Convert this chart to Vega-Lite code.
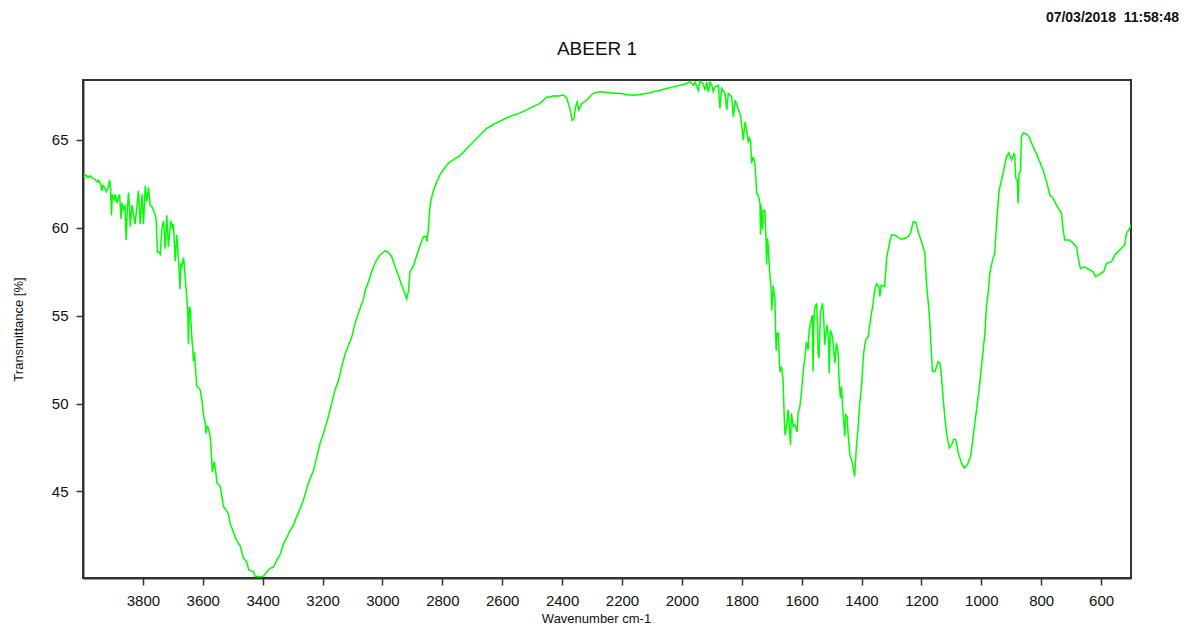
{
  "$schema": "https://vega.github.io/schema/vega-lite/v6.json",
  "width": 1048,
  "height": 498,
  "autosize": {"type": "none"},
  "padding": {"left": 83, "top": 80, "right": 54, "bottom": 46},
  "background": "white",
  "title": {
    "text": "ABEER 1",
    "anchor": "middle",
    "dx": -10,
    "offset": -63,
    "baseline": "alphabetic",
    "font": "Liberation Sans",
    "fontSize": 19,
    "fontWeight": "normal",
    "color": "#111111"
  },
  "config": {
    "view": {"stroke": "#333333", "strokeWidth": 2},
    "axis": {
      "grid": false,
      "domainColor": "#333333",
      "domainWidth": 2,
      "tickColor": "#333333",
      "tickWidth": 1.5,
      "tickSize": 7,
      "labelFont": "Liberation Sans",
      "labelFontSize": 15,
      "labelColor": "#111111",
      "titleFont": "Liberation Sans",
      "titleFontWeight": "normal",
      "titleColor": "#111111"
    }
  },
  "datasets": {
    "spectrum": [
      {"wn": 3998, "t": 62.9}, {"wn": 3990, "t": 63.0}, {"wn": 3984, "t": 62.85}, {"wn": 3976, "t": 62.95},
      {"wn": 3968, "t": 62.8}, {"wn": 3960, "t": 62.75}, {"wn": 3952, "t": 62.6}, {"wn": 3948, "t": 62.7},
      {"wn": 3942, "t": 62.5}, {"wn": 3937, "t": 62.1}, {"wn": 3934, "t": 62.4}, {"wn": 3928, "t": 62.3},
      {"wn": 3922, "t": 62.05}, {"wn": 3916, "t": 62.3}, {"wn": 3911, "t": 62.7}, {"wn": 3908, "t": 62.2},
      {"wn": 3905, "t": 60.7}, {"wn": 3902, "t": 61.9}, {"wn": 3896, "t": 61.6}, {"wn": 3892, "t": 61.9},
      {"wn": 3886, "t": 61.4}, {"wn": 3882, "t": 61.7}, {"wn": 3878, "t": 61.9}, {"wn": 3873, "t": 60.5},
      {"wn": 3870, "t": 61.4}, {"wn": 3865, "t": 61.0}, {"wn": 3860, "t": 61.3}, {"wn": 3856, "t": 59.3},
      {"wn": 3852, "t": 61.0}, {"wn": 3848, "t": 62.0}, {"wn": 3845, "t": 61.2}, {"wn": 3842, "t": 60.05},
      {"wn": 3837, "t": 61.3}, {"wn": 3832, "t": 60.8}, {"wn": 3826, "t": 60.2}, {"wn": 3820, "t": 61.2},
      {"wn": 3815, "t": 62.1}, {"wn": 3809, "t": 60.2}, {"wn": 3803, "t": 61.9}, {"wn": 3798, "t": 60.2},
      {"wn": 3792, "t": 62.4}, {"wn": 3787, "t": 61.5}, {"wn": 3781, "t": 62.3}, {"wn": 3776, "t": 61.3},
      {"wn": 3770, "t": 61.2}, {"wn": 3765, "t": 61.0}, {"wn": 3760, "t": 60.8}, {"wn": 3756, "t": 60.5},
      {"wn": 3751, "t": 58.6}, {"wn": 3746, "t": 58.6}, {"wn": 3742, "t": 58.5}, {"wn": 3737, "t": 59.9},
      {"wn": 3731, "t": 60.4}, {"wn": 3726, "t": 58.8}, {"wn": 3720, "t": 60.7}, {"wn": 3715, "t": 58.9},
      {"wn": 3707, "t": 60.4}, {"wn": 3702, "t": 60.0}, {"wn": 3698, "t": 60.2}, {"wn": 3692, "t": 58.1},
      {"wn": 3687, "t": 59.6}, {"wn": 3681, "t": 58.2}, {"wn": 3676, "t": 56.5}, {"wn": 3673, "t": 57.9},
      {"wn": 3670, "t": 57.8}, {"wn": 3664, "t": 58.3}, {"wn": 3659, "t": 57.2}, {"wn": 3653, "t": 55.9},
      {"wn": 3650, "t": 55.2}, {"wn": 3648, "t": 53.4}, {"wn": 3645, "t": 55.5}, {"wn": 3642, "t": 55.4},
      {"wn": 3636, "t": 53.6}, {"wn": 3633, "t": 53.0}, {"wn": 3631, "t": 52.4}, {"wn": 3628, "t": 52.9},
      {"wn": 3625, "t": 52.1}, {"wn": 3620, "t": 51.0}, {"wn": 3614, "t": 50.9}, {"wn": 3609, "t": 50.8},
      {"wn": 3603, "t": 50.2}, {"wn": 3598, "t": 49.4}, {"wn": 3592, "t": 48.9}, {"wn": 3589, "t": 48.3},
      {"wn": 3585, "t": 48.7}, {"wn": 3581, "t": 48.6}, {"wn": 3576, "t": 48.2}, {"wn": 3573, "t": 47.65},
      {"wn": 3568, "t": 46.1}, {"wn": 3562, "t": 46.7}, {"wn": 3557, "t": 46.2}, {"wn": 3553, "t": 45.5},
      {"wn": 3542, "t": 45.3}, {"wn": 3531, "t": 44.15}, {"wn": 3520, "t": 43.9}, {"wn": 3514, "t": 43.7},
      {"wn": 3509, "t": 43.2}, {"wn": 3500, "t": 42.8}, {"wn": 3492, "t": 42.4}, {"wn": 3483, "t": 42.1},
      {"wn": 3475, "t": 41.9}, {"wn": 3464, "t": 41.2}, {"wn": 3453, "t": 41.0}, {"wn": 3447, "t": 40.55},
      {"wn": 3440, "t": 40.5}, {"wn": 3431, "t": 40.45}, {"wn": 3425, "t": 40.17}, {"wn": 3414, "t": 40.17},
      {"wn": 3405, "t": 40.15}, {"wn": 3397, "t": 40.2}, {"wn": 3390, "t": 40.35}, {"wn": 3381, "t": 40.55},
      {"wn": 3372, "t": 40.65}, {"wn": 3364, "t": 40.7}, {"wn": 3353, "t": 41.1}, {"wn": 3342, "t": 41.4},
      {"wn": 3331, "t": 42.0}, {"wn": 3319, "t": 42.4}, {"wn": 3308, "t": 42.8}, {"wn": 3297, "t": 43.1},
      {"wn": 3286, "t": 43.6}, {"wn": 3275, "t": 44.0}, {"wn": 3264, "t": 44.5}, {"wn": 3247, "t": 45.5},
      {"wn": 3230, "t": 46.2}, {"wn": 3219, "t": 47.0}, {"wn": 3208, "t": 47.75}, {"wn": 3197, "t": 48.3},
      {"wn": 3180, "t": 49.3}, {"wn": 3169, "t": 50.05}, {"wn": 3158, "t": 50.8}, {"wn": 3147, "t": 51.3},
      {"wn": 3136, "t": 52.1}, {"wn": 3125, "t": 52.8}, {"wn": 3114, "t": 53.3}, {"wn": 3102, "t": 53.8},
      {"wn": 3091, "t": 54.6}, {"wn": 3075, "t": 55.4}, {"wn": 3064, "t": 55.9}, {"wn": 3058, "t": 56.4},
      {"wn": 3047, "t": 56.9}, {"wn": 3036, "t": 57.5}, {"wn": 3025, "t": 57.98}, {"wn": 3013, "t": 58.35},
      {"wn": 3002, "t": 58.55}, {"wn": 2991, "t": 58.68}, {"wn": 2980, "t": 58.6}, {"wn": 2969, "t": 58.35},
      {"wn": 2958, "t": 57.8}, {"wn": 2947, "t": 57.3}, {"wn": 2935, "t": 56.7}, {"wn": 2924, "t": 56.2},
      {"wn": 2919, "t": 55.95}, {"wn": 2913, "t": 56.4}, {"wn": 2908, "t": 57.5}, {"wn": 2897, "t": 57.8},
      {"wn": 2885, "t": 58.45}, {"wn": 2874, "t": 59.0}, {"wn": 2863, "t": 59.5}, {"wn": 2854, "t": 59.5},
      {"wn": 2852, "t": 59.2}, {"wn": 2847, "t": 59.8}, {"wn": 2843, "t": 60.9}, {"wn": 2839, "t": 61.5},
      {"wn": 2830, "t": 62.1}, {"wn": 2819, "t": 62.6}, {"wn": 2808, "t": 63.0}, {"wn": 2797, "t": 63.3},
      {"wn": 2780, "t": 63.66}, {"wn": 2757, "t": 63.94}, {"wn": 2741, "t": 64.1}, {"wn": 2718, "t": 64.5},
      {"wn": 2696, "t": 64.9}, {"wn": 2674, "t": 65.27}, {"wn": 2652, "t": 65.65}, {"wn": 2630, "t": 65.87},
      {"wn": 2607, "t": 66.06}, {"wn": 2585, "t": 66.25}, {"wn": 2563, "t": 66.4}, {"wn": 2540, "t": 66.53},
      {"wn": 2518, "t": 66.7}, {"wn": 2496, "t": 66.9}, {"wn": 2474, "t": 67.07}, {"wn": 2451, "t": 67.44},
      {"wn": 2440, "t": 67.44}, {"wn": 2429, "t": 67.5}, {"wn": 2418, "t": 67.47}, {"wn": 2396, "t": 67.54},
      {"wn": 2385, "t": 67.4}, {"wn": 2374, "t": 66.78}, {"wn": 2366, "t": 66.1}, {"wn": 2360, "t": 66.2},
      {"wn": 2355, "t": 66.9}, {"wn": 2349, "t": 67.16}, {"wn": 2345, "t": 66.7}, {"wn": 2334, "t": 67.07},
      {"wn": 2318, "t": 67.26}, {"wn": 2296, "t": 67.64}, {"wn": 2273, "t": 67.73}, {"wn": 2251, "t": 67.7},
      {"wn": 2229, "t": 67.64}, {"wn": 2207, "t": 67.64}, {"wn": 2184, "t": 67.58}, {"wn": 2162, "t": 67.54},
      {"wn": 2140, "t": 67.58}, {"wn": 2117, "t": 67.64}, {"wn": 2095, "t": 67.73}, {"wn": 2073, "t": 67.82},
      {"wn": 2051, "t": 67.92}, {"wn": 2029, "t": 68.01}, {"wn": 2006, "t": 68.1}, {"wn": 1984, "t": 68.2},
      {"wn": 1973, "t": 68.33}, {"wn": 1962, "t": 68.1}, {"wn": 1956, "t": 68.28}, {"wn": 1945, "t": 67.82},
      {"wn": 1940, "t": 68.33}, {"wn": 1929, "t": 68.2}, {"wn": 1923, "t": 67.82}, {"wn": 1917, "t": 68.28},
      {"wn": 1912, "t": 67.73}, {"wn": 1906, "t": 68.28}, {"wn": 1901, "t": 68.15}, {"wn": 1895, "t": 67.73},
      {"wn": 1890, "t": 68.0}, {"wn": 1878, "t": 68.1}, {"wn": 1873, "t": 66.78}, {"wn": 1867, "t": 67.92},
      {"wn": 1856, "t": 67.64}, {"wn": 1850, "t": 66.7}, {"wn": 1845, "t": 67.64}, {"wn": 1834, "t": 67.45},
      {"wn": 1828, "t": 66.3}, {"wn": 1822, "t": 67.26}, {"wn": 1811, "t": 66.7}, {"wn": 1806, "t": 66.5},
      {"wn": 1800, "t": 65.84}, {"wn": 1795, "t": 64.98}, {"wn": 1789, "t": 66.02}, {"wn": 1784, "t": 65.55},
      {"wn": 1778.5, "t": 64.9}, {"wn": 1774, "t": 65.1}, {"wn": 1770.5, "t": 64.9}, {"wn": 1767, "t": 63.66},
      {"wn": 1762, "t": 64.03}, {"wn": 1756, "t": 63.66}, {"wn": 1750, "t": 61.95}, {"wn": 1745, "t": 61.85},
      {"wn": 1739, "t": 61.39}, {"wn": 1737.5, "t": 59.6}, {"wn": 1736, "t": 61.3}, {"wn": 1731, "t": 59.9},
      {"wn": 1728, "t": 61.0}, {"wn": 1723, "t": 61.0}, {"wn": 1719, "t": 59.4}, {"wn": 1717, "t": 57.9},
      {"wn": 1714, "t": 59.4}, {"wn": 1712, "t": 59.0}, {"wn": 1706, "t": 57.3}, {"wn": 1702, "t": 56.6},
      {"wn": 1700, "t": 55.3}, {"wn": 1697, "t": 56.0}, {"wn": 1695, "t": 56.7}, {"wn": 1689, "t": 55.9},
      {"wn": 1687, "t": 54.1}, {"wn": 1685, "t": 53.0}, {"wn": 1682, "t": 54.0}, {"wn": 1678, "t": 54.0},
      {"wn": 1674, "t": 52.3}, {"wn": 1672, "t": 51.8}, {"wn": 1667, "t": 52.1}, {"wn": 1662, "t": 51.35},
      {"wn": 1657, "t": 48.7}, {"wn": 1655, "t": 48.2}, {"wn": 1650, "t": 48.79}, {"wn": 1645, "t": 49.64},
      {"wn": 1641, "t": 48.6}, {"wn": 1637, "t": 47.65}, {"wn": 1634, "t": 49.45}, {"wn": 1628, "t": 48.7},
      {"wn": 1623, "t": 48.8}, {"wn": 1615, "t": 48.4}, {"wn": 1612, "t": 49.45}, {"wn": 1606, "t": 49.83},
      {"wn": 1600, "t": 50.78}, {"wn": 1593, "t": 52.1}, {"wn": 1589, "t": 52.58}, {"wn": 1584, "t": 53.52},
      {"wn": 1578.5, "t": 53.05}, {"wn": 1575, "t": 54.09}, {"wn": 1570.5, "t": 54.57}, {"wn": 1564, "t": 55.04},
      {"wn": 1562, "t": 51.82}, {"wn": 1559, "t": 54.8}, {"wn": 1556, "t": 55.42}, {"wn": 1550, "t": 55.7},
      {"wn": 1547, "t": 54.5}, {"wn": 1545, "t": 52.86}, {"wn": 1542, "t": 52.58}, {"wn": 1537, "t": 55.23},
      {"wn": 1530, "t": 55.7}, {"wn": 1526, "t": 54.76}, {"wn": 1523, "t": 53.33}, {"wn": 1519, "t": 54.0},
      {"wn": 1515, "t": 54.47}, {"wn": 1510, "t": 53.6}, {"wn": 1508, "t": 51.73}, {"wn": 1504, "t": 54.19},
      {"wn": 1497, "t": 53.8}, {"wn": 1493, "t": 53.05}, {"wn": 1489, "t": 52.3}, {"wn": 1484, "t": 53.43},
      {"wn": 1478, "t": 52.86}, {"wn": 1475, "t": 51.35}, {"wn": 1470.5, "t": 50.3}, {"wn": 1467, "t": 50.97},
      {"wn": 1462, "t": 49.55}, {"wn": 1456, "t": 48.13}, {"wn": 1453, "t": 49.36}, {"wn": 1448, "t": 49.26},
      {"wn": 1445, "t": 48.32}, {"wn": 1439, "t": 47.08}, {"wn": 1430, "t": 46.61}, {"wn": 1423, "t": 45.85},
      {"wn": 1417, "t": 47.56}, {"wn": 1412, "t": 48.51}, {"wn": 1406, "t": 50.02}, {"wn": 1400, "t": 50.97},
      {"wn": 1393, "t": 52.86}, {"wn": 1386, "t": 53.62}, {"wn": 1378, "t": 53.8}, {"wn": 1370.5, "t": 54.76},
      {"wn": 1362, "t": 55.6}, {"wn": 1356, "t": 56.46}, {"wn": 1350, "t": 56.8}, {"wn": 1342, "t": 56.65},
      {"wn": 1339, "t": 56.08}, {"wn": 1334, "t": 56.74}, {"wn": 1323, "t": 56.65}, {"wn": 1316, "t": 58.26},
      {"wn": 1308, "t": 59.02}, {"wn": 1300, "t": 59.58}, {"wn": 1289, "t": 59.58}, {"wn": 1278, "t": 59.45},
      {"wn": 1266, "t": 59.35}, {"wn": 1255, "t": 59.4}, {"wn": 1244, "t": 59.5}, {"wn": 1236, "t": 59.7},
      {"wn": 1227.5, "t": 60.34}, {"wn": 1218.5, "t": 60.3}, {"wn": 1211, "t": 59.77}, {"wn": 1199.5, "t": 59.2},
      {"wn": 1188.5, "t": 58.55}, {"wn": 1183, "t": 56.84}, {"wn": 1174, "t": 55.14}, {"wn": 1169, "t": 53.62},
      {"wn": 1163, "t": 51.82}, {"wn": 1155, "t": 51.82}, {"wn": 1144, "t": 52.39}, {"wn": 1138, "t": 52.3},
      {"wn": 1133, "t": 51.53}, {"wn": 1127, "t": 50.21}, {"wn": 1122, "t": 49.26}, {"wn": 1116, "t": 48.32},
      {"wn": 1107, "t": 47.47}, {"wn": 1099, "t": 47.65}, {"wn": 1092, "t": 47.98}, {"wn": 1085, "t": 47.94},
      {"wn": 1077, "t": 47.18}, {"wn": 1066, "t": 46.61}, {"wn": 1057, "t": 46.33}, {"wn": 1047, "t": 46.52},
      {"wn": 1036, "t": 46.99}, {"wn": 1027, "t": 48.13}, {"wn": 1016, "t": 49.64}, {"wn": 1005, "t": 51.16},
      {"wn": 996, "t": 52.67}, {"wn": 988, "t": 54.0}, {"wn": 983, "t": 55.51}, {"wn": 977, "t": 56.3},
      {"wn": 971.5, "t": 57.41}, {"wn": 962.5, "t": 58.16}, {"wn": 955, "t": 58.55}, {"wn": 949, "t": 60.25},
      {"wn": 940.5, "t": 62.14}, {"wn": 932.5, "t": 62.71}, {"wn": 925, "t": 63.28}, {"wn": 916, "t": 64.03},
      {"wn": 908, "t": 64.26}, {"wn": 899, "t": 63.85}, {"wn": 891, "t": 64.2}, {"wn": 888, "t": 64.1},
      {"wn": 885, "t": 62.81}, {"wn": 880, "t": 62.71}, {"wn": 877, "t": 61.39}, {"wn": 874, "t": 63.09},
      {"wn": 869, "t": 63.19}, {"wn": 866, "t": 65.17}, {"wn": 860, "t": 65.4}, {"wn": 849, "t": 65.32},
      {"wn": 840, "t": 65.17}, {"wn": 832, "t": 64.8}, {"wn": 821, "t": 64.4}, {"wn": 807, "t": 63.85},
      {"wn": 794, "t": 63.28}, {"wn": 782, "t": 62.62}, {"wn": 771, "t": 61.86}, {"wn": 760, "t": 61.67},
      {"wn": 749, "t": 61.29}, {"wn": 732, "t": 60.82}, {"wn": 727, "t": 59.87}, {"wn": 721, "t": 59.3},
      {"wn": 704.5, "t": 59.3}, {"wn": 693, "t": 59.11}, {"wn": 682, "t": 58.92}, {"wn": 677, "t": 58.35},
      {"wn": 669, "t": 57.69}, {"wn": 654, "t": 57.78}, {"wn": 638, "t": 57.6}, {"wn": 627, "t": 57.5},
      {"wn": 618, "t": 57.22}, {"wn": 604, "t": 57.37}, {"wn": 591, "t": 57.5}, {"wn": 582, "t": 57.98},
      {"wn": 565, "t": 58.07}, {"wn": 554, "t": 58.45}, {"wn": 543, "t": 58.64}, {"wn": 532, "t": 58.83},
      {"wn": 521, "t": 59.02}, {"wn": 515, "t": 59.68}, {"wn": 504, "t": 59.97}, {"wn": 497, "t": 60.25}
    ]
  },
  "layer": [
    {
      "data": {"name": "spectrum"},
      "mark": {"type": "line", "color": "#00ff00", "strokeWidth": 1.5, "clip": true},
      "encoding": {
        "x": {
          "field": "wn",
          "type": "quantitative",
          "scale": {"domain": [500, 4000], "reverse": true, "zero": false, "nice": false},
          "axis": {
            "title": "Wavenumber cm-1",
            "titleFontSize": 13,
            "titlePadding": 4,
            "titleX": 513,
            "values": [3800, 3600, 3400, 3200, 3000, 2800, 2600, 2400, 2200, 2000, 1800, 1600, 1400, 1200, 1000, 800, 600],
            "format": "d",
            "labelPadding": 8
          }
        },
        "y": {
          "field": "t",
          "type": "quantitative",
          "scale": {"domain": [40.08, 68.4], "zero": false, "nice": false},
          "axis": {
            "title": "Transmittance [%]",
            "titleFontSize": 13,
            "titlePadding": 26,
            "values": [45, 50, 55, 60, 65],
            "labelPadding": 8
          }
        }
      }
    },
    {
      "data": {"values": [{"stamp": "07/03/2018\u00a0\u00a011:58:48"}]},
      "mark": {
        "type": "text",
        "align": "right",
        "baseline": "middle",
        "dx": 48,
        "dy": -62,
        "font": "Liberation Sans",
        "fontSize": 14,
        "fontWeight": "bold",
        "color": "#111111",
        "clip": false
      },
      "encoding": {
        "x": {"datum": 500, "type": "quantitative"},
        "y": {"datum": 68.4, "type": "quantitative"},
        "text": {"field": "stamp"}
      }
    }
  ]
}
